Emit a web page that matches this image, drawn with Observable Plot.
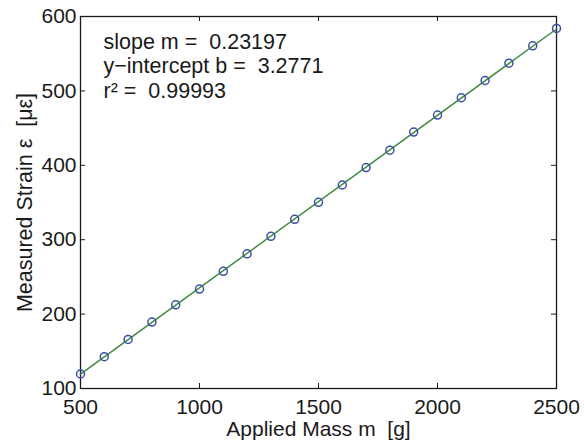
<!DOCTYPE html>
<html>
<head>
<meta charset="utf-8">
<script src="https://cdn.jsdelivr.net/npm/d3@7"></script>
<script src="https://cdn.jsdelivr.net/npm/@observablehq/plot@0.6"></script>
<style>
  html, body { margin: 0; padding: 0; background: #fff; }
</style>
</head>
<body>
<div id="chart"></div>
<script>
// Data
const mass = [500, 600, 700, 800, 900, 1000, 1100, 1200, 1300, 1400, 1500, 1600, 1700, 1800, 1900, 2000, 2100, 2200, 2300, 2400, 2500];
const strain = [119.5, 142.8, 165.9, 189.3, 212.4, 233.6, 257.5, 281.0, 304.5, 327.4, 350.2, 373.5, 397.0, 420.3, 444.6, 467.5, 490.8, 514.0, 537.2, 560.6, 584.0];
const slope = 0.23197;
const intercept = 3.2771;
const r2 = 0.99993;
const fitX = [500, 2500];
const xTicks = [500, 1000, 1500, 2000, 2500];
const yTicks = [100, 200, 300, 400, 500, 600];

const points = mass.map((m, i) => ({m, s: strain[i]}));
const fit = fitX.map(x => ({m: x, s: slope * x + intercept}));

const W = 584, H = 443;
const mL = 80, mR = 28, mT = 16, mB = 55;
const innerH = H - mT - mB, innerW = W - mL - mR;
const font = "'Liberation Sans', Arial, Helvetica, sans-serif";
const nb = "\u00a0";
const note = `slope m =${nb} ${slope}\ny\u2212intercept b =${nb} ${intercept}\nr\u00b2 =${nb} ${r2}`;
const ink = "#1a1a1a";

const chart = Plot.plot({
  width: W,
  height: H,
  marginLeft: mL,
  marginRight: mR,
  marginTop: mT,
  marginBottom: mB,
  style: {fontFamily: font, fontSize: "21px", color: ink, background: "#fff"},
  x: {domain: [500, 2500]},
  y: {domain: [100, 600]},
  marks: [
    Plot.axisX(xTicks, {tickSize: 0, tickPadding: 11, fontSize: 21, label: null, fill: ink, tickFormat: d3.format("d")}),
    Plot.axisY(yTicks, {tickSize: 0, tickPadding: 4, fontSize: 21, label: null, fill: ink, tickFormat: d3.format("d")}),
    // inward ticks on all four sides
    Plot.tickX(xTicks, {x: d => d, insetTop: innerH - 5, stroke: ink}),
    Plot.tickX(xTicks, {x: d => d, insetBottom: innerH - 5, stroke: ink}),
    Plot.tickY(yTicks, {y: d => d, insetRight: innerW - 5, stroke: ink}),
    Plot.tickY(yTicks, {y: d => d, insetLeft: innerW - 5, stroke: ink}),
    Plot.frame({stroke: ink, strokeWidth: 1.3}),
    Plot.line(fit, {x: "m", y: "s", stroke: "#3f8a3f", strokeWidth: 1.5}),
    Plot.dot(points, {x: "m", y: "s", r: 4, stroke: "#3a52a3", strokeWidth: 1.5, fill: "none"}),
    Plot.text([note], {frameAnchor: "top-left", dx: 23, dy: 15, lineAnchor: "top", textAnchor: "start", fontSize: 21.5, lineHeight: 1.14, fill: ink}),
    Plot.text(["Applied Mass m" + nb + " [g]"], {frameAnchor: "bottom", dy: 41, lineAnchor: "middle", textAnchor: "middle", fontSize: 21, fill: ink}),
    Plot.text(["Measured Strain \u03b5" + nb + " [\u03bc\u03b5]"], {frameAnchor: "left", dx: -55, rotate: -90, textAnchor: "middle", lineAnchor: "middle", fontSize: 21.5, fill: ink})
  ]
});
document.getElementById("chart").appendChild(chart);
</script>
</body>
</html>
